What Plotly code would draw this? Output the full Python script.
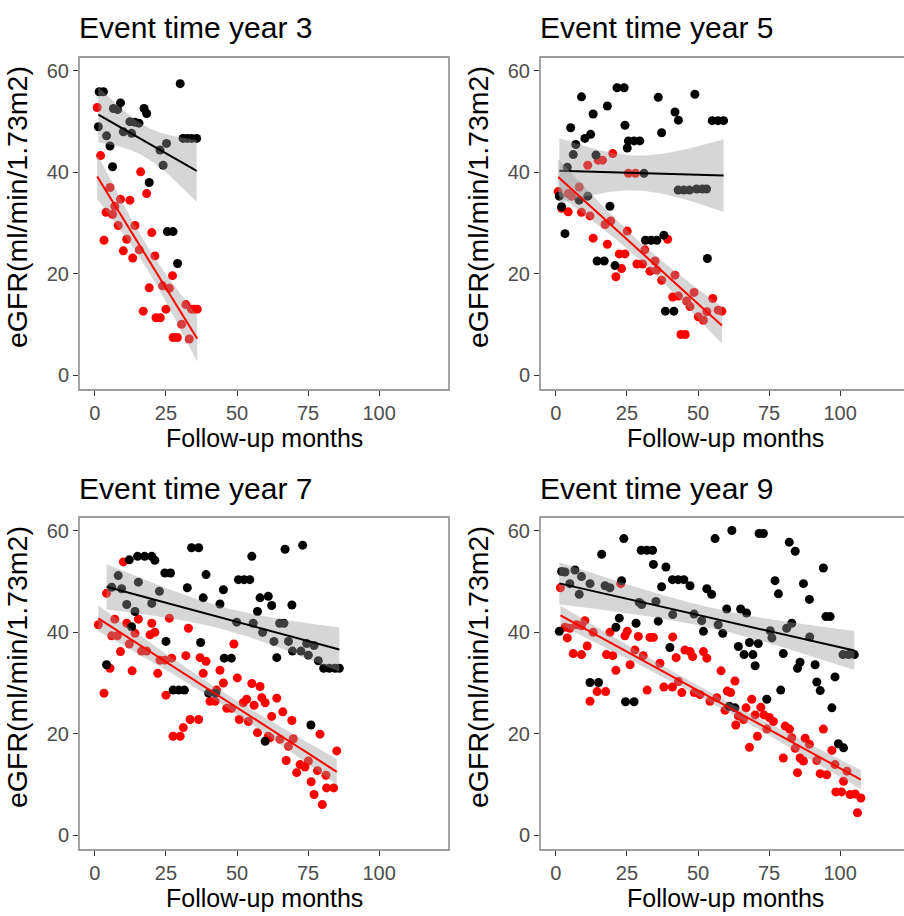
import numpy as np
import plotly.graph_objects as go

# ---------------------------------------------------------------------------
# eGFR measurements by follow-up month, split by outcome group
# ("ctrl" = black points, "case" = red points), one block per event-time year
# ---------------------------------------------------------------------------

# Event time year 3
y3_ctrl_months = [30, 1.5, 3, 9, 6.5, 8, 17.3, 18.2, 1.2, 12.3, 14, 15.5, 10, 12.9, 4.1,
                  25.2, 22.9, 31, 32.5, 34, 35.8, 5.3, 24, 6.2, 19.1, 25.5, 27.5, 29.1]
y3_ctrl_egfr = [57.5, 55.9, 55.9, 53.7, 52.6, 52.4, 52.6, 51.6, 49.0, 50.0, 49.9, 49.7, 48, 47.7, 47.2,
                45.7, 44.4, 46.7, 46.7, 46.7, 46.7, 45.2, 41.4, 41.1, 38.0, 28.3, 28.3, 22.0]
y3_case_months = [0.8, 2.0, 16.1, 18.2, 5.3, 9.0, 12.3, 3.9, 6.2, 7, 8.2, 14.1, 20, 3.2, 11.2,
                  10, 13.3, 15.6, 21.1, 27.3, 19.1, 23.8, 26.2, 17, 21.5, 23, 25, 32, 34, 35, 36,
                  30.5, 27.5, 29, 33.2]
y3_case_egfr = [52.8, 43.3, 40.1, 35.8, 37.0, 34.7, 34.5, 32.1, 31.7, 33.3, 29.5, 29.5, 28.1, 26.6, 26.8,
                24.5, 23.1, 24.7, 23.5, 19.6, 17.2, 17.6, 17.1, 12.6, 11.3, 11.3, 13.0, 13.9, 13, 13, 13,
                10, 7.4, 7.4, 7.1]

# Event time year 5
y5_ctrl_months = [21.5, 24, 9, 36, 48.9, 18.1, 13.1, 41.9, 43.1, 55, 57, 59, 5.2, 24.3, 10.2,
                  12.2, 37.2, 25.5, 27.5, 29.5, 25.1, 7, 6.1, 14.1, 4, 31, 43, 45, 47, 49.5,
                  51.5, 53, 1.2, 2, 8.2, 11.2, 19, 3.2, 31.5, 33.5, 35.5, 38, 14.5, 17, 20.8,
                  53.3, 38.5, 41.5]
y5_ctrl_egfr = [56.7, 56.7, 54.9, 54.8, 55.4, 53.1, 51.5, 51.9, 50.3, 50.2, 50.2, 50.2, 48.8, 49.3, 46.7,
                47.5, 47.8, 46.2, 46.2, 46.2, 44.8, 45.5, 43.5, 43.4, 41, 39.8, 36.5, 36.5, 36.5, 36.7,
                36.7, 36.7, 35.3, 33.2, 34.5, 35.3, 33.3, 27.9, 26.6, 26.6, 26.6, 27.6, 22.5, 22.5, 21.6,
                23, 12.6, 12.6]
y5_case_months = [20, 14.9, 16.4, 11.2, 25.5, 28, 0.8, 4.3, 5.5, 8.2, 2, 4.3, 9, 12, 17.3,
                  19.3, 25.1, 39.3, 13.1, 18.1, 22.3, 24.3, 31.3, 23.1, 21.1, 28.5, 30.5, 33.1, 35.5,
                  34.9, 37.2, 41.9, 41.1, 43.1, 46, 47.2, 48.6, 44, 45.5, 55.2, 50.1, 51.9, 53.1,
                  57.1, 58.4]
y5_case_egfr = [43.7, 42.4, 42.4, 41.4, 39.8, 39.8, 36.2, 35.8, 35.3, 37.1, 32.9, 32.2, 32.1, 31.4, 29.7,
                30.4, 28.4, 26.8, 27, 25.8, 23.9, 23.9, 24.7, 21, 19.4, 21.9, 21.9, 20.5, 20.7,
                22.5, 18.7, 19.7, 15.4, 15.6, 14.6, 13.5, 16.3, 8.0, 8.0, 15.1, 11.5, 10.8, 12.5,
                12.8, 12.6]

# Event time year 7
y7_ctrl_months = [34, 36.5, 15, 17.5, 20, 12.1, 21.1, 55.2, 24.6, 26.6, 39.1, 50.5, 52.5, 54.5, 8.2,
                  15.3, 5.9, 9.4, 32.5, 22.7, 45.2, 38.1, 11.2, 20, 44, 58.1, 61, 14.1, 57.2, 12.9,
                  49.9, 55.7, 59, 25, 37.2, 45.5, 48, 4.1, 27.5, 29.5, 31.5, 40, 42.5, 59.9, 66.9,
                  73.1, 62.2, 69.3, 65, 66.5, 63, 68.1, 74.5, 77.1, 69.5, 72.5, 75.1, 78.6, 80.5,
                  82.5, 84.5, 86, 64, 76]
y7_ctrl_egfr = [56.7, 56.7, 55.0, 55.0, 55.0, 54.3, 54.2, 55.0, 51.7, 51.7, 51.4, 50.4, 50.4, 50.4, 51.2,
                49.9, 48.9, 48.6, 48.8, 48.1, 48.4, 46.8, 45.5, 45.7, 45.6, 46.8, 47.1, 44.1, 44.1, 41.1,
                42.0, 41.8, 40.0, 38.2, 38.0, 34.9, 34.9, 33.6, 28.6, 28.6, 28.6, 28.0, 28.0, 18.5, 56.4,
                57.2, 45.3, 45.4, 41.8, 41.8, 38.2, 38.2, 37.8, 37.4, 36.3, 36.3, 35.5, 34.4, 32.9,
                32.9, 32.9, 32.9, 35, 21.7]
y7_case_months = [10, 4.1, 1.2, 7, 11.2, 15.3, 20, 26.2, 32.9, 14.1, 19.4, 21.1, 5.9, 7.9, 12.1,
                  16.4, 18.2, 9, 22.9, 24.6, 27, 32, 37, 39.1, 48.9, 5.3, 13.1, 22.1, 38.1, 44,
                  45.2, 50.1, 55.2, 58.1, 3.2, 25, 42.8, 40.5, 42.3, 46.4, 48.1, 52.2, 53.4, 56,
                  58.7, 59.9, 50.8, 54, 33.5, 36.5, 31.1, 27.5, 30, 57.2, 61, 64, 66.1, 62.2, 69.3,
                  79.2, 85.1, 61.6, 65.1, 68.1, 69.8, 67.3, 72.2, 73.9, 71, 75.1, 78.3, 81.3, 76.1,
                  81.5, 84, 77.1, 80]
y7_case_egfr = [53.9, 47.7, 41.5, 42.6, 41.8, 42.6, 41.8, 42.8, 40.8, 39.8, 39.5, 40, 39.3, 39.3, 37.7,
                36.3, 36.3, 36.2, 34.5, 34.5, 34.9, 35.4, 35, 34.3, 37.7, 32.9, 32.4, 31.9, 31.9, 32.5,
                30, 31, 29.9, 29.3, 28.0, 27.6, 28.6, 26.4, 26.4, 25, 25, 26.1, 26.8, 25.6,
                27.1, 26.1, 22.8, 22.4, 22.8, 22.8, 21.2, 19.5, 19.5, 20.2, 19.5, 27, 24.3, 23.4, 22.6,
                19.9, 16.6, 19.2, 18.9, 17.5, 19, 14.7, 13.9, 13.4, 12.3, 14.6, 12.7, 11.8, 10.5,
                9.3, 9.3, 8.0, 6.0]

# Event time year 9
y9_ctrl_months = [23.9, 56, 61.9, 16.1, 30, 32, 34, 34.3, 38.7, 2, 3.2, 6.7, 9, 12, 4.9,
                  23.1, 17.3, 19, 8.2, 41, 43, 45, 47.2, 37.2, 53.1, 54.8, 29.3, 30.2, 35.2, 41.1,
                  48.6, 51.3, 57.1, 60.1, 22.3, 36, 28.2, 21.1, 51.9, 58.7, 1.2, 40.1, 12, 15, 24.5,
                  27.5, 61, 71.5, 73, 82.1, 84.2, 94.1, 77.1, 78.3, 87.1, 89.2, 65, 67.1, 95, 96.5,
                  83, 81.2, 75.4, 76, 89.3, 64.2, 68.1, 71.2, 66.2, 69.3, 70.1, 80, 85.9, 85, 91.2,
                  101, 103, 105, 98.2, 91.8, 93, 79.1, 74.2, 97.1, 63, 99.4, 101.2]
y9_ctrl_egfr = [58.5, 58.5, 60.1, 55.4, 56.2, 56.2, 56.2, 53.4, 52.9, 52, 51.9, 52.3, 51, 49.6, 49.6,
                50.2, 49.2, 48.8, 47.5, 50.4, 50.4, 50.4, 49.2, 49, 48.6, 47.5, 45.9, 45.5, 46.1, 43.5,
                43.6, 42.3, 41.5, 44.6, 42.8, 42.2, 41.8, 41, 40.2, 39.8, 40.2, 37, 30.1, 30.1, 26.3,
                26.3, 25.4, 59.5, 59.5, 57.8, 56, 52.7, 50.2, 47.6, 49.6, 46.5, 44.6, 43.8, 43.1, 43.1,
                41.8, 40.8, 40.3, 38.9, 39.1, 37.2, 38, 37.8, 35.6, 35.6, 33.4, 35.8, 34.1, 32.9, 33.6,
                35.6, 35.6, 35.6, 31.2, 30.2, 28.5, 28.6, 26.8, 25.1, 25.1, 18, 17.2]
y9_case_months = [1.6, 22.8, 3.2, 4.9, 4, 7.3, 9, 10.2, 13.1, 19, 6.1, 9, 11, 17.8, 20,
                  21.1, 24.3, 25.1, 29, 33.1, 34.3, 26.1, 27.8, 30.7, 36.6, 41.1, 42.3, 45.4, 47.2,
                  48.1, 51.9, 53.1, 43.1, 38, 41, 32.1, 44.3, 48.7, 50.7, 54.2, 56.6, 58.1, 59.5,
                  60.3, 12, 14.5, 17.5, 63, 61.5, 68.9, 66.9, 72.1, 64.2, 66, 70.1, 73.2, 63.3, 75.1,
                  76.5, 74.2, 80.7, 82.2, 70.9, 68.1, 83, 84.2, 87.7, 89.2, 94.1, 85.9, 87.1, 91.8,
                  80, 85, 93, 95.3, 97.1, 98.2, 102.4, 101.2, 98.5, 100.5, 103.5, 105.3, 107.3, 106.1]
y9_case_egfr = [48.8, 49.6, 41, 40.8, 38.9, 41.5, 41.3, 42.3, 40, 40, 35.8, 35.6, 37.3, 35.6, 35.4,
                32.5, 39.3, 40.2, 39.2, 39, 39, 33.6, 36.5, 35.4, 33.9, 39.1, 35, 36.5, 36.2,
                35.2, 36.2, 34.9, 30.3, 29.2, 29.2, 28.6, 28.1, 28.1, 27.7, 26.4, 27.1, 32.4, 24.6,
                28.4, 26.4, 28.3, 28.3, 30.4, 28.1, 26.8, 25.1, 25.2, 23.5, 22.8, 23.7, 23.7, 21.7, 23.2,
                22.4, 20.9, 21.5, 20.9, 19.5, 17.3, 19.2, 17.1, 19.1, 17.9, 20.9, 15.2, 14.6, 14.7,
                15.2, 12.3, 12.1, 11.9, 16.7, 13.9, 12.6, 10.6, 8.5, 8.5, 8, 8.1, 7.3, 4.4]

panel_titles = ["Event time year 3", "Event time year 5", "Event time year 7", "Event time year 9"]
panel_data = [
    (y3_ctrl_months, y3_ctrl_egfr, y3_case_months, y3_case_egfr),
    (y5_ctrl_months, y5_ctrl_egfr, y5_case_months, y5_case_egfr),
    (y7_ctrl_months, y7_ctrl_egfr, y7_case_months, y7_case_egfr),
    (y9_ctrl_months, y9_ctrl_egfr, y9_case_months, y9_case_egfr),
]
x_ticks = [0, 25, 50, 75, 100]
y_ticks = [0, 20, 40, 60]
x_title = "Follow-up months"
y_title = "eGFR(ml/min/1.73m2)"

CTRL_COLOR = "#000000"
CASE_COLOR = "#FF0000"
BAND_FILL = "rgba(153,153,153,0.4)"
FONT = "Liberation Sans, Arial, Helvetica, sans-serif"


def t975(dof):
    """Approximate 97.5% Student-t quantile (Cornish-Fisher expansion)."""
    z = 1.959964
    return (z + (z**3 + z) / (4 * dof)
            + (5 * z**5 + 16 * z**3 + 3 * z) / (96 * dof**2)
            + (3 * z**7 + 19 * z**5 + 17 * z**3 - 15 * z) / (384 * dof**3))


def linear_fit_band(x, y, n=80):
    """Least-squares line with its 95% confidence band over the data range."""
    x = np.asarray(x, float)
    y = np.asarray(y, float)
    slope, icept = np.polyfit(x, y, 1)
    grid = np.linspace(x.min(), x.max(), n)
    fit = icept + slope * grid
    resid = y - (icept + slope * x)
    dof = len(x) - 2
    s = np.sqrt((resid ** 2).sum() / dof)
    sxx = ((x - x.mean()) ** 2).sum()
    se = s * np.sqrt(1.0 / len(x) + (grid - x.mean()) ** 2 / sxx)
    half = t975(dof) * se
    return grid, fit, fit - half, fit + half


# Page geometry (pixels) for the 2x2 grid of panels
W, H = 904, 916
PX_PER_MONTH = 2.842
X_MIN = -5.6
panel_left = [79, 540, 79, 540]
panel_right = [449, 910, 449, 910]          # right column runs past the page edge
panel_top = [57, 57, 517, 517]
panel_bottom = [390, 390, 850, 850]
Y_RANGE = [-2.96, 62.76]

fig = go.Figure()
layout_axes = {}
shapes = []
annotations = []

for i, (title, (cx, cy, rx, ry)) in enumerate(zip(panel_titles, panel_data)):
    k = "" if i == 0 else str(i + 1)
    xa, ya = "x" + k, "y" + k

    # points: case group first, control group on top
    fig.add_trace(go.Scatter(x=rx, y=ry, mode="markers", xaxis=xa, yaxis=ya,
                             marker=dict(color=CASE_COLOR, size=9), showlegend=False,
                             hoverinfo="x+y"))
    fig.add_trace(go.Scatter(x=cx, y=cy, mode="markers", xaxis=xa, yaxis=ya,
                             marker=dict(color=CTRL_COLOR, size=9), showlegend=False,
                             hoverinfo="x+y"))

    # linear fits with 95% confidence ribbons, drawn above the points
    for gx, gy, col in ((cx, cy, CTRL_COLOR), (rx, ry, CASE_COLOR)):
        grid, fit, lo, hi = linear_fit_band(gx, gy)
        fig.add_trace(go.Scatter(x=np.concatenate([grid, grid[::-1]]),
                                 y=np.concatenate([hi, lo[::-1]]),
                                 mode="lines", fill="toself", fillcolor=BAND_FILL,
                                 line=dict(width=0), xaxis=xa, yaxis=ya,
                                 showlegend=False, hoverinfo="skip"))
        fig.add_trace(go.Scatter(x=grid, y=fit, mode="lines", xaxis=xa, yaxis=ya,
                                 line=dict(color=col, width=2), showlegend=False,
                                 hoverinfo="skip"))

    left, right = panel_left[i], panel_right[i]
    top, bottom = panel_top[i], panel_bottom[i]
    vis_right = min(right, W)
    x_max = X_MIN + (vis_right - left) / PX_PER_MONTH

    axis_common = dict(showgrid=False, zeroline=False, showline=False,
                       ticks="outside", ticklen=5, tickwidth=1.4, tickcolor="#333333",
                       tickfont=dict(family=FONT, size=20, color="#4D4D4D"))
    layout_axes["xaxis" + k] = dict(axis_common, domain=[left / W, vis_right / W],
                                    range=[X_MIN, x_max], tickvals=x_ticks,
                                    anchor=ya)
    layout_axes["yaxis" + k] = dict(axis_common, domain=[1 - bottom / H, 1 - top / H],
                                    range=Y_RANGE, tickvals=y_ticks, anchor=xa)

    # panel border
    shapes.append(dict(type="rect", xref="paper", yref="paper",
                       x0=left / W, x1=right / W, y0=1 - bottom / H, y1=1 - top / H,
                       line=dict(color="#7F7F7F", width=1.4), fillcolor="rgba(0,0,0,0)",
                       layer="above"))

    # panel title
    annotations.append(dict(text=title, xref="paper", yref="paper",
                            x=(left - 2) / W, y=1 - (top - 29) / H,
                            xanchor="left", yanchor="middle", showarrow=False,
                            font=dict(family=FONT, size=30, color="#000000")))
    # x-axis title
    annotations.append(dict(text=x_title, xref="paper", yref="paper",
                            x=(left + right) / 2 / W, y=1 - (bottom + 48) / H,
                            xanchor="center", yanchor="middle", showarrow=False,
                            font=dict(family=FONT, size=25, color="#000000")))
    # y-axis title
    annotations.append(dict(text=y_title, xref="paper", yref="paper",
                            x=(left - 62) / W, y=1 - (top + 150) / H,
                            xanchor="center", yanchor="middle", showarrow=False,
                            textangle=-90,
                            font=dict(family=FONT, size=28.5, color="#000000")))

fig.update_layout(width=W, height=H, margin=dict(l=0, r=0, t=0, b=0),
                  paper_bgcolor="white", plot_bgcolor="white",
                  shapes=shapes, annotations=annotations, **layout_axes)

fig.write_html("out.html")
